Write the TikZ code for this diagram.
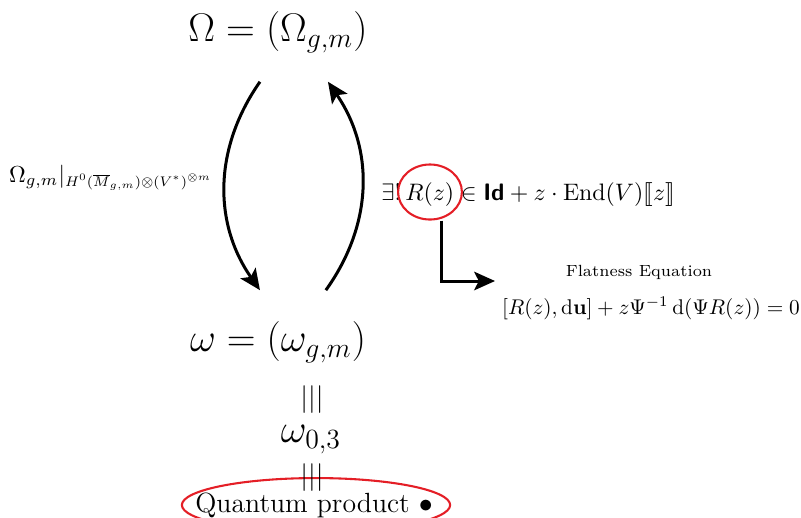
\documentclass[tikz,border=0pt]{standalone}
\usepackage{amsmath,amssymb,stmaryrd,graphicx}
\usetikzlibrary{shapes.geometric,arrows.meta}
\definecolor{ringred}{RGB}{228,30,38}
\begin{document}
\begin{tikzpicture}[x=.0152cm,y=-.0152cm,line width=1.3pt,>={Stealth[length=9pt,width=8pt,inset=2pt]}]
\useasboundingbox (0,0) rectangle (801,517);
\node (top) at (278,32) {\LARGE$\Omega=(\Omega_{g,m})$};
\node (bot) at (278,342) {\LARGE$\omega=(\omega_{g,m})$};
\node[anchor=base west] (lbl) at (0,182) {$\Omega_{g,m}|_{\scalebox{.86}{$\scriptstyle H^0(\overline{M}_{g,m})\otimes(V^*)^{\otimes m}$}}$};
\draw[->] ([xshift=-7.8pt,yshift=-8.6pt]top.south) to[bend right=35] ([xshift=-7.8pt,yshift=9.5pt]bot.north);
\draw[->] ([xshift=20.7pt,yshift=9.5pt]bot.north) to[bend right=35] ([xshift=21.6pt,yshift=-8.6pt]top.south);
% R-matrix and flatness
\node[anchor=base west,scale=1.03] (rlbl) at (372,200) {$\exists!\,R(z)\in\textsf{\textbf{Id}}+z\cdot\mathrm{End}(V)\llbracket z\rrbracket$};
\node[ellipse,draw=ringred,line width=.9pt,minimum width=27.6pt,minimum height=23.8pt] (rz) at (430,192) {};
\coordinate (tip) at (495,281);
\draw[->] ([xshift=5pt]rz.south) |- (tip);
\node (flat) at (639,272) {\scriptsize Flatness Equation};
\node[scale=.92] (feq) at (651,308) {$[R(z),\mathrm{d}\mathbf{u}]+z\Psi^{-1}\,\mathrm{d}(\Psi R(z))=0$};
% down to the quantum product
\node[ellipse,draw=ringred,line width=.9pt,minimum width=116pt,minimum height=23.3pt] (qring) at (316,505) {};
\foreach \y in {400,478}{\node at (312,\y) {\large$|||$};}
\node[anchor=base] (small) at (311,442) {\LARGE$\omega_{0,3}$};
\node[anchor=base] (qp) at (314,512) {\large Quantum product $\bullet$};
\end{tikzpicture}
\end{document}
